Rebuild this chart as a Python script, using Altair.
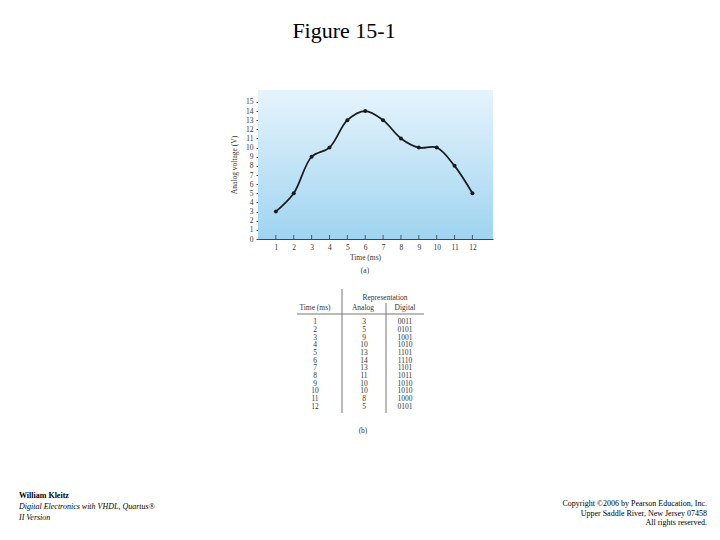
import altair as alt
import pandas as pd

# ---- data ----
time_ms = [1, 2, 3, 4, 5, 6, 7, 8, 9, 10, 11, 12]
analog_v = [3, 5, 9, 10, 13, 14, 13, 11, 10, 10, 8, 5]
digital = ["0011", "0101", "1001", "1010", "1101", "1110",
           "1101", "1011", "1010", "1010", "1000", "0101"]
y_ticks = list(range(0, 16))

title_text = "Figure 15-1"
left_footer = ["William Kleitz", "Digital Electronics with VHDL, Quartus®", "II Version"]
right_footer = ["Copyright ©2006 by Pearson Education, Inc.",
                "Upper Saddle River, New Jersey 07458",
                "All rights reserved."]

df = pd.DataFrame({"t": time_ms, "v": analog_v, "d": digital, "row": time_ms})
one = pd.DataFrame({"a": [0]})

W, H = 235, 149
SERIF = "Liberation Serif"

xscale = alt.Scale(domain=[0, 13.15], nice=False, zero=False)
yscale = alt.Scale(domain=[0, 16.3], nice=False, zero=False)

X = alt.X("t:Q", scale=xscale,
          axis=alt.Axis(values=time_ms, title="Time (ms)", ticks=False,
                        labelPadding=4, titlePadding=3, format="d", titleX=107))
Yaxis = alt.Y("v:Q", scale=yscale,
              axis=alt.Axis(values=y_ticks, title="Analog voltage (V)", tickSize=2,
                            labelPadding=3, titlePadding=7, format="d"))
Ynone = alt.Y("v:Q", scale=yscale, axis=None)

grad = alt.Gradient(gradient="linear",
                    stops=[alt.GradientStop(color="#e6f4fc", offset=0),
                           alt.GradientStop(color="#9fd4f1", offset=1)],
                    x1=0, x2=0, y1=0, y2=1)

bg = alt.Chart(one).mark_rect(color=grad).encode(
    x=alt.value(0), x2=alt.value(W), y=alt.value(0), y2=alt.value(H))

inticks = alt.Chart(df).mark_rule(color="#555555", strokeWidth=1).encode(
    x=X, y=alt.value(H), y2=alt.value(H - 4))

line = alt.Chart(df).mark_line(interpolate="catmull-rom", color="#1a1a1a",
                               strokeWidth=1.7).encode(x=X, y=Yaxis)
pts = alt.Chart(df).mark_circle(size=16, color="#1a1a1a", opacity=1).encode(x=X, y=Ynone)

def txt(s, x, y, size=7.5, align="center", weight="normal", style="normal", color="#333333"):
    return alt.Chart(one).mark_text(text=s, font=SERIF, fontSize=size, align=align,
                                    baseline="middle", fontWeight=weight,
                                    fontStyle=style, color=color).encode(
        x=alt.value(x), y=alt.value(y))

label_a = txt("(a)", 107, 180.5)
title = txt(title_text, 86, -59, size=22, color="#000000")

# ---- table (b) ----
rowY = alt.Y("row:Q", scale=alt.Scale(domain=[1, 12], range=[232.3, 316.7]), axis=None)

def col(field, x):
    return alt.Chart(df).mark_text(font=SERIF, fontSize=7.5, color="#333333",
                                   baseline="middle").encode(
        x=alt.value(x), y=rowY, text=field)

tcol = col("t:Q", 57)
acol = col("v:Q", 106)
dcol = col("d:N", 147)

hdr = [txt("Representation", 127, 207.5), txt("Time (ms)", 57, 218),
       txt("Analog", 105, 218), txt("Digital", 147, 218), txt("(b)", 105, 340.5)]

def rule(x, x2, y, y2):
    return alt.Chart(one).mark_rule(color="#777777", strokeWidth=1).encode(
        x=alt.value(x), x2=alt.value(x2), y=alt.value(y), y2=alt.value(y2))

rules = [rule(84, 84, 199, 323), rule(128, 128, 213, 323), rule(39, 166, 224, 224)]

# ---- footers ----
foot = [
    txt(left_footer[0], -239, 406, size=8, align="left", weight="bold", color="#000000"),
    txt(left_footer[1], -239, 417, size=8, align="left", style="italic", color="#000000"),
    txt(left_footer[2], -239, 428, size=8, align="left", style="italic", color="#000000"),
    txt(right_footer[0], 449, 414, size=8, align="right", color="#000000"),
    txt(right_footer[1], 449, 423.5, size=8, align="right", color="#000000"),
    txt(right_footer[2], 449, 433, size=8, align="right", color="#000000"),
]

chart = alt.layer(bg, inticks, line, pts, label_a, title, tcol, acol, dcol,
                  *hdr, *rules, *foot).resolve_scale(y="independent").properties(
    width=W, height=H,
    autosize=alt.AutoSizeParams(type="none"),
    padding={"left": 250, "top": 82, "right": 219, "bottom": 293},
    background="white",
).configure_view(stroke=None).configure_axis(
    labelFont=SERIF, labelFontSize=7.5, labelColor="#333333",
    titleFont=SERIF, titleFontSize=7.5, titleColor="#333333", titleFontWeight="normal",
    domainColor="#444444", tickColor="#444444", grid=False,
)

chart.save("out.html", embed_options={"renderer": "svg", "actions": False})
